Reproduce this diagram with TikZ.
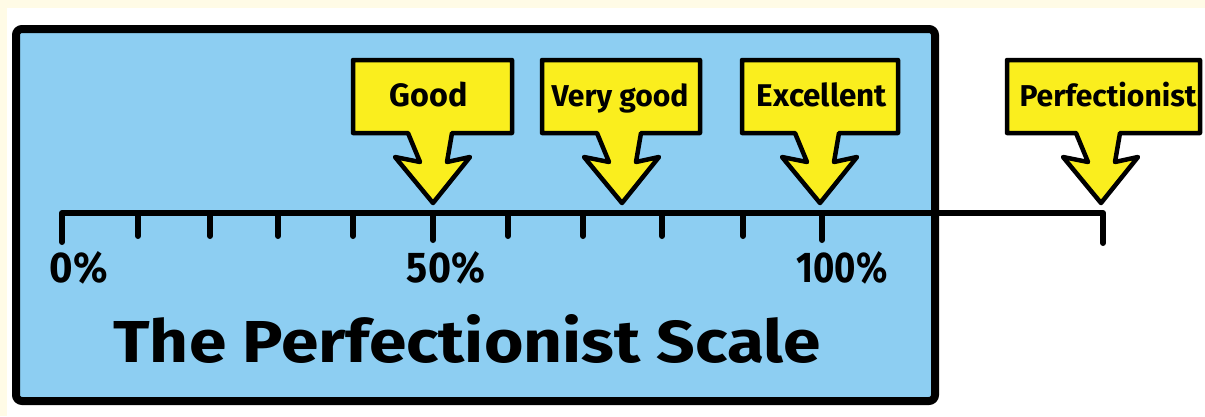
\documentclass[tikz,border=0pt]{standalone}
\usepackage{fontspec}
\usepackage{graphicx}
\setmainfont{Fira Sans}
\definecolor{cream}{RGB}{255,251,230}
\definecolor{skyblue}{RGB}{141,206,242}
\definecolor{calloutyellow}{RGB}{250,238,30}
\tikzset{
  panel/.style={draw=black, line width=8pt, fill=skyblue, rounded corners=6pt},
  calloutshape/.style={draw=black, line width=4.5pt, fill=calloutyellow, line join=round},
  axisline/.style={draw=black, line width=6pt, line join=round, line cap=round},
  tickmark/.style={draw=black, line width=6pt, line cap=round},
  lab/.style={inner sep=0pt, font=\bfseries, text=black},
}
\begin{document}
\begin{tikzpicture}[x=1pt,y=-1pt]
\useasboundingbox (0,0) rectangle (1205,416);
% background
\fill[cream] (0,0) rectangle (1205,416);
\fill[white] (7,8) rectangle (1205,416);
% blue panel
\draw[panel] (16,29) rectangle (935,401);
% axis
\coordinate (a0) at (62,213);
\coordinate (aend) at (1103,213);
\draw[axisline] ([yshift=-29pt]a0) -- (a0) -- (aend) -- ([yshift=-30pt]aend);
\foreach \x in {138,210,278,353,508,583,662,743}
  \draw[tickmark] (\x,213) -- (\x,236);
\foreach \x in {433,822}
  \draw[tickmark] (\x,213) -- (\x,240);
% callouts
\foreach \n/\l/\r/\t/\tx/\w/\txt in {
  good/353/512/433/429/78/Good,
  verygood/542/700/622/620/137/Very good,
  excellent/742/898/820/822/130/Excellent,
  perfectionist/1007/1200/1101/1108/177/Perfectionist}{
  \draw[calloutshape] (\l,60) -- (\r,60) -- (\r,133) -- ({\t+19},133) -- ({\t+14},162)
    -- ({\t+37},157) -- (\t,203) -- ({\t-38},157) -- ({\t-13},162) -- ({\t-25},133)
    -- (\l,133) -- cycle;
  \node[lab, anchor=base] (\n) at (\tx,106) {\resizebox{\w pt}{!}{\txt}};
}
% percent labels
\node[lab, anchor=base] (p0) at (79,282) {\resizebox{58pt}{31pt}{0\%}};
\node[lab, anchor=base] (p50) at (446,282) {\resizebox{78pt}{31pt}{50\%}};
\node[lab, anchor=base] (p100) at (842,282) {\resizebox{91pt}{31pt}{100\%}};
% title
\node[lab, anchor=base] (title) at (467,362) {\resizebox{707pt}{48pt}{The Perfectionist Scale}};
\end{tikzpicture}
\end{document}
